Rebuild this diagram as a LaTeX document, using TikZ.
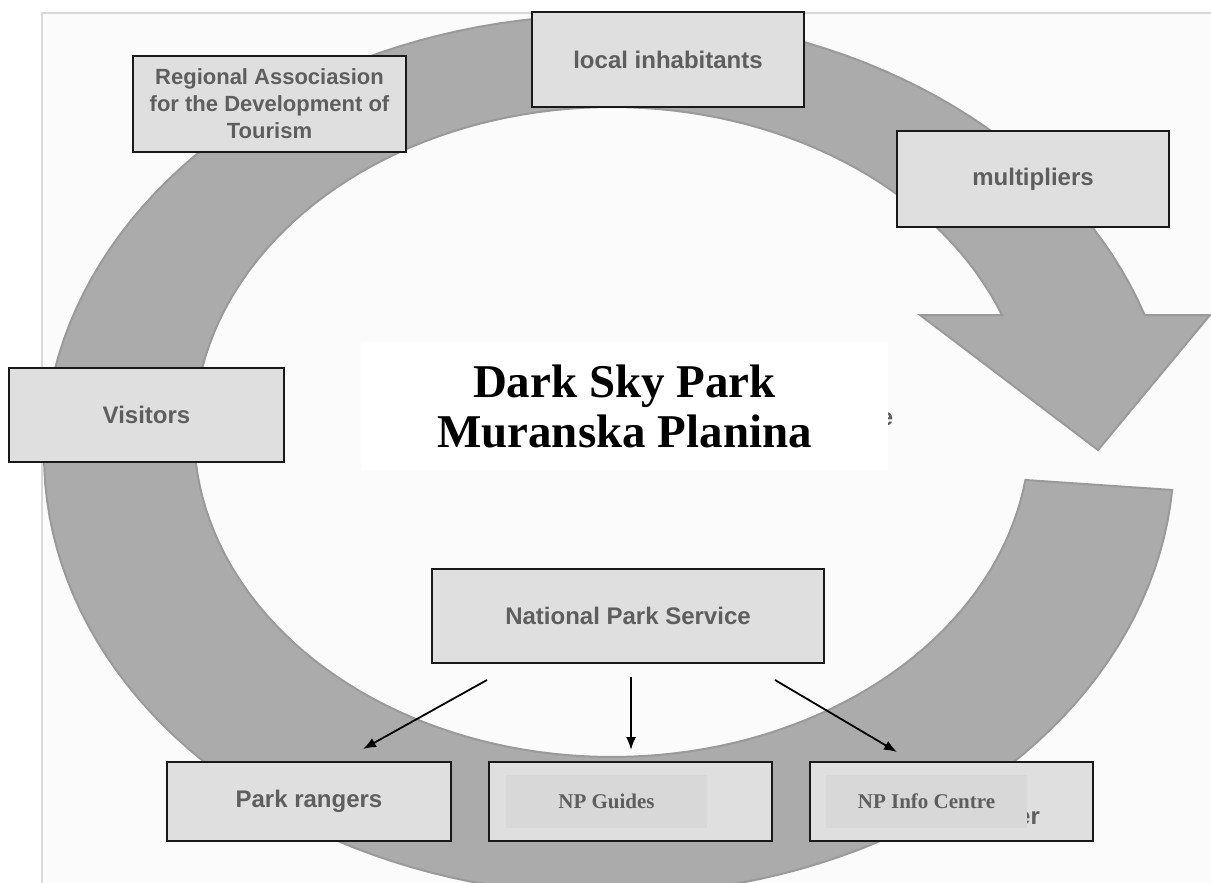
\documentclass[tikz,border=0pt]{standalone}
\usepackage{fontspec}
\setmainfont{Liberation Serif}
\setsansfont{Liberation Sans}
\usetikzlibrary{arrows.meta}
\definecolor{panel}{HTML}{FBFBFB}
\definecolor{panelline}{HTML}{D9D9D9}
\definecolor{ringfill}{HTML}{ABABAB}
\definecolor{ringline}{HTML}{9A9A9A}
\definecolor{boxfill}{HTML}{DFDFDF}
\definecolor{innerfill}{HTML}{D8D8D8}
\definecolor{txtgray}{HTML}{5E5E5E}
\begin{document}
\begin{tikzpicture}[x=1pt,y=-1pt,
  box/.style={draw=black!90, line width=2.2pt, fill=boxfill, inner sep=0pt, text=txtgray,
    font=\sffamily\bfseries\fontsize{24}{27}\selectfont, align=center},
  innerbox/.style={fill=innerfill, inner sep=0pt, text=txtgray,
    font=\rmfamily\bfseries\fontsize{21}{24}\selectfont},
  arr/.style={line width=1.8pt, -{Latex[length=13pt,width=10pt]}}]
\useasboundingbox (0,0) rectangle (1211,883);
\fill[white] (0,0) rectangle (1211,883);
\fill[panel] (42,13) rectangle (1211,883);
\draw[panelline, line width=1.5pt] (42,883) -- (42,13) -- (1211,13);
% ring arrow
\filldraw[fill=ringfill, draw=ringline, line width=2pt, line join=miter]
  plot[domain=4.56:341.45, samples=160] ({609+565*cos(\x)},{455+440*sin(\x)})
  -- (1210,315) -- (1098,450) -- (920,315)
  -- plot[domain=338.9:8.49, samples=160] ({612+418*cos(\x)},{432+325*sin(\x)})
  -- cycle;
% remnant glyph behind title
\node[text=txtgray, font=\sffamily\bfseries\fontsize{24}{27}\selectfont, inner sep=0pt] (rem) at (886.5,419) {e};
\node[fill=white, minimum width=527pt, minimum height=128pt, inner sep=0pt,
  font=\rmfamily\bfseries\fontsize{47}{50}\selectfont, align=center] (title) at (624.5,406)
  {Dark Sky Park\\Muranska Planina};
% boxes
\node[box, minimum width=273pt, minimum height=96pt, font=\sffamily\bfseries\fontsize{22}{27}\selectfont] (reg) at (269.5,104)
  {Regional Associasion\\for the Development of\\Tourism};
\node[box, minimum width=272pt, minimum height=95pt] (loc) at (668,59.5) {local inhabitants};
\node[box, minimum width=272pt, minimum height=96pt] (mult) at (1033,179) {multipliers};
\node[box, minimum width=275pt, minimum height=94pt] (vis) at (146.5,415) {Visitors};
\node[box, minimum width=392pt, minimum height=94pt] (nps) at (628,616) {National Park Service};
\node[box, minimum width=284pt, minimum height=79pt] (rang) at (309,801.5) {Park rangers};
\node[box, minimum width=283pt, minimum height=79pt] (guid) at (630.5,801.5) {};
\node[box, minimum width=283pt, minimum height=79pt] (info) at (951.5,801.5) {};
\node[text=txtgray, font=\sffamily\bfseries\fontsize{24}{27}\selectfont, inner sep=0pt] (er) at (1028.5,818) {er};
\node[innerbox, minimum width=201pt, minimum height=53pt] (guidin) at (606.5,801.5) {NP Guides};
\node[innerbox, minimum width=201pt, minimum height=53pt] (infoin) at (926.5,801.5) {NP Info Centre};
% arrows
\coordinate (a1s) at (487,680);
\coordinate (a1e) at (363,749);
\coordinate (a2s) at (631,677);
\coordinate (a2e) at (631,750);
\coordinate (a3s) at (775,680);
\coordinate (a3e) at (897,752);
\draw[arr] (a1s) -- (a1e);
\draw[arr] (a2s) -- (a2e);
\draw[arr] (a3s) -- (a3e);
\end{tikzpicture}
\end{document}
